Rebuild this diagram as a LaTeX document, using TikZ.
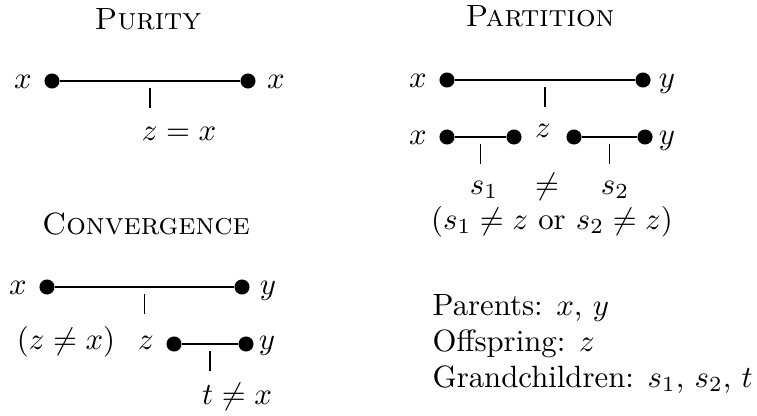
\documentclass[tikz,border=0pt]{standalone}
\usetikzlibrary{calc}
\begin{document}
\begin{tikzpicture}[x=0.325pt,y=-0.325pt,
  dot/.style={circle,fill=black,inner sep=0pt,minimum size=4.9pt},
  lbl/.style={inner sep=0pt,anchor=base},
  ttl/.style={inner sep=0pt,anchor=base},
  seg/.style={line width=0.5pt},
  tick/.style={line width=0.5pt}]
\useasboundingbox (0,0) rectangle (757,415);
% ---------- Purity
\node[ttl] (tP) at (148,29) {\textsc{Purity}};
\node[dot] (p1) at (52,81) {};
\node[dot] (p2) at (248,81) {};
\draw[seg] (p1) -- (p2);
\node[lbl] (px1) at (23,88) {$x$};
\node[lbl] (px2) at (276,88) {$x$};
\draw[tick] ($(p1)!0.5!(p2)+(0,7)$) -- ++(0,20);
\node[lbl] (pz) at (179,140) {$z=x$};
% ---------- Partition
\node[ttl] (tQ) at (540,27) {\textsc{Partition}};
\node[dot] (a1) at (447,80) {};
\node[dot] (a2) at (643,80) {};
\draw[seg] (a1) -- (a2);
\node[lbl] (ax) at (418,87) {$x$};
\node[lbl] (ay) at (667,87) {$y$};
\draw[tick] ($(a1)!0.5!(a2)+(0,7)$) -- ++(0,20);
\node[dot] (b1) at (447,137) {};
\node[dot] (b2) at (514,137) {};
\node[dot] (b3) at (574,137) {};
\node[dot] (b4) at (645,137) {};
\draw[seg] (b1) -- (b2);
\draw[seg] (b3) -- (b4);
\node[lbl] (bx) at (418,144) {$x$};
\node[lbl] (by) at (667,144) {$y$};
\node[lbl] (bz) at (543,137) {$z$};
\draw[tick] ($(b1)!0.5!(b2)+(0,7)$) -- ++(0,20);
\draw[tick] ($(b3)!0.5!(b4)+(0,7)$) -- ++(0,20);
\node[lbl] (s1) at (484,194) {$s_1$};
\node[lbl] (ne) at (547,194) {$\neq$};
\node[lbl] (s2) at (615,194) {$s_2$};
\node[lbl] (cond) at (552,229) {$(s_1\neq z$ or $s_2\neq z)$};
% ---------- Convergence
\node[ttl] (tC) at (146,234) {\textsc{Convergence}};
\node[dot] (c1) at (47,287) {};
\node[dot] (c2) at (242,287) {};
\draw[seg] (c1) -- (c2);
\node[lbl] (cx) at (18,294) {$x$};
\node[lbl] (cy) at (268,294) {$y$};
\draw[tick] ($(c1)!0.5!(c2)+(0,7)$) -- ++(0,20);
\node[dot] (d1) at (174,344) {};
\node[dot] (d2) at (246,344) {};
\draw[seg] (d1) -- (d2);
\node[lbl] (dz) at (146,349) {$z$};
\node[lbl] (dzx) at (66,349) {$(z\neq x)$};
\node[lbl] (dy) at (267,349) {$y$};
\draw[tick] ($(d1)!0.5!(d2)+(0,7)$) -- ++(0,20);
\node[lbl] (tx) at (237,404) {$t\neq x$};
% ---------- Legend
\node[inner sep=0pt,anchor=base west] (L1) at (432,315) {Parents: $x$, $y$};
\node[inner sep=0pt,anchor=base west] (L2) at (432,351) {Offspring: $z$};
\node[inner sep=0pt,anchor=base west] (L3) at (432,387) {Grandchildren: $s_1$, $s_2$, $t$};
\end{tikzpicture}
\end{document}
